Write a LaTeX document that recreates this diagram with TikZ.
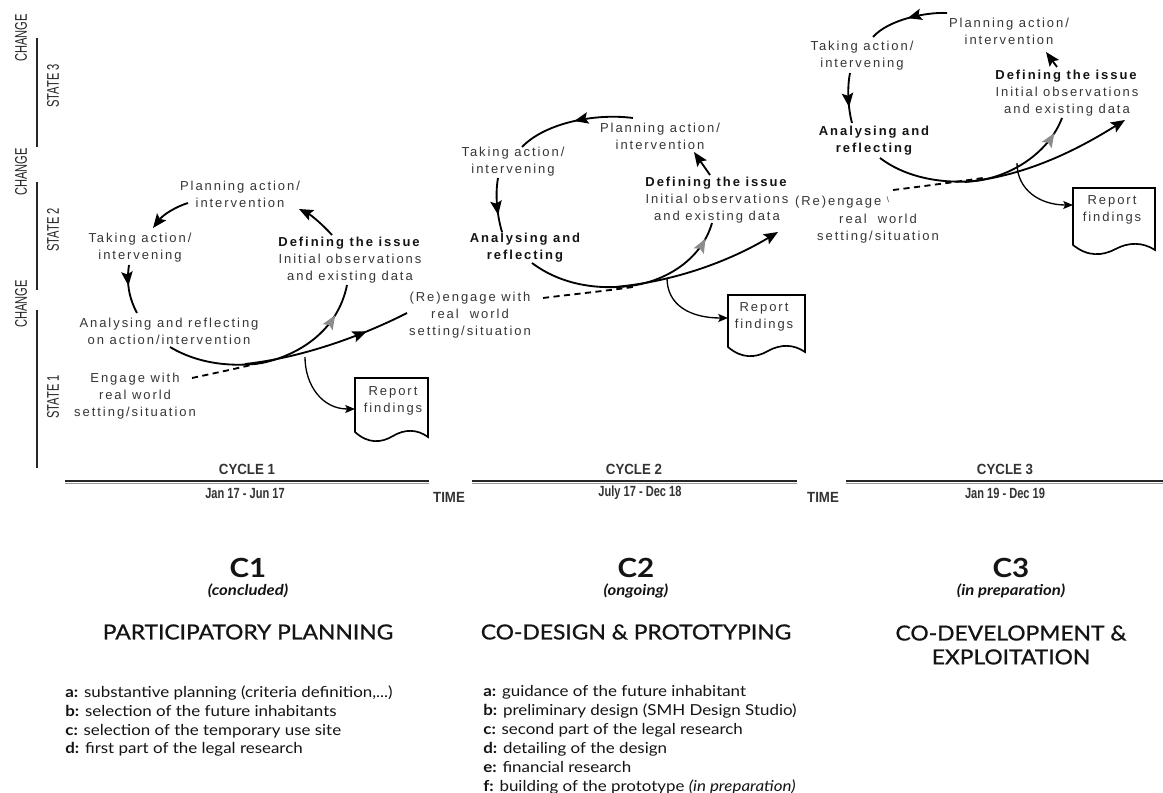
\documentclass[tikz,border=0pt]{standalone}
\usepackage{fontspec}
\usepackage{graphicx}
\setmainfont{Liberation Sans}
\newfontfamily\dgfont[LetterSpace=15]{Liberation Sans}
\newfontfamily\axfont{Liberation Sans}
\newfontfamily\capfont[FakeStretch=1.12]{Lato}
\newfontfamily\headfont[FakeStretch=1.1, FakeBold=0.8]{Lato}
\usetikzlibrary{arrows.meta,decorations.markings}
\definecolor{ink}{HTML}{363636}
\definecolor{deep}{HTML}{141414}

% document-shaped outline with a wavy lower edge: left, top, right, bottom
\newcommand{\docshape}[4]{%
  \draw[docline] (#1,#2) -- (#1,#4)
    .. controls ({#1+0.18*(#3-#1)},{#4+12}) and ({#1+0.36*(#3-#1)},{#4+11}) .. ({#1+0.52*(#3-#1)},{#4+4})
    .. controls ({#1+0.68*(#3-#1)},{#4-3}) and ({#1+0.85*(#3-#1)},{#4-3}) .. (#3,{#4+5})
    -- (#3,#2) -- cycle;}

\tikzset{
  lbl/.style={font=\dgfont\fontsize{7.4}{9.6}\selectfont, text=ink, align=center, inner sep=0pt},
  flow/.style={line width=1.05pt, draw=black},
  thinflow/.style={line width=0.75pt, draw=black},
  docline/.style={line width=0.95pt, draw=black, fill=white},
  headtip/.style={-{Stealth[length=8pt,width=6.5pt,inset=1.5pt]}},
  smalltip/.style={-{Stealth[length=5.5pt,width=4.5pt,inset=1pt]}},
  dashflow/.style={line width=1.05pt, draw=black, dash pattern=on 3.5pt off 2.5pt},
  midhead/.style={postaction={decorate, decoration={markings,
      mark=at position #1 with {\arrow{Stealth[length=8pt,width=6.5pt,inset=1.5pt]}}}}},
  greyhead/.style={postaction={decorate, decoration={markings,
      mark=at position #1 with {\arrow{Stealth[length=8pt,width=6.5pt,inset=1.5pt,color=black!45]}}}}},
  axlbl/.style={font=\axfont\fontsize{9.6}{10}\selectfont, rotate=90, inner sep=0pt, text=black!85},
  axline/.style={line width=1.2pt, draw=black!85},
  tltext/.style={font=\axfont\bfseries\fontsize{8.4}{9}\selectfont, inner sep=0pt, text=black!80},
  tlmain/.style={line width=1.3pt, draw=black!85},
  tlshade/.style={line width=0.9pt, draw=black!40},
  ctitle/.style={font=\capfont\bfseries\fontsize{15}{16}\selectfont, inner sep=0pt, text=deep},
  cstatus/.style={font=\capfont\bfseries\itshape\fontsize{8.5}{9}\selectfont, inner sep=0pt, text=deep},
  chead/.style={font=\headfont\fontsize{11.8}{13.6}\selectfont, inner sep=0pt, align=center, text=deep},
  clist/.style={font=\capfont\fontsize{8.6}{10.8}\selectfont, inner sep=0pt, align=left, text=deep, anchor=north west},
}

\begin{document}
\begin{tikzpicture}[x=0.02cm, y=-0.02cm]
\fill[white] (0,0) rectangle (1163,793);
\useasboundingbox (0,0) rectangle (1163,793);

% ---------- state / change axis ----------
\coordinate (s3a) at (37,38);  \coordinate (s3b) at (37,147);
\coordinate (s2a) at (37,182); \coordinate (s2b) at (37,290);
\coordinate (s1a) at (37,310); \coordinate (s1b) at (37,468);
\draw[axline] (s3a) -- (s3b);
\draw[axline] (s2a) -- (s2b);
\draw[axline] (s1a) -- (s1b);
\node[axlbl] (ch3) at (21,38)  {\scalebox{0.66}[1]{CHANGE}};
\node[axlbl] (ch2) at (21,172) {\scalebox{0.66}[1]{CHANGE}};
\node[axlbl] (ch1) at (21,304) {\scalebox{0.66}[1]{CHANGE}};
\node[axlbl] (st3) at (53,86)  {\scalebox{0.66}[1]{STATE 3}};
\node[axlbl] (st2) at (53,230) {\scalebox{0.66}[1]{STATE 2}};
\node[axlbl] (st1) at (53,397) {\scalebox{0.66}[1]{STATE 1}};

% ---------- cycle 1 ----------
\node[lbl] (plan1) at (240,194) {Planning action/\\intervention};
\node[lbl] (take1) at (140,248) {Taking action/\\intervening};
\node[lbl] (anal1) at (169,331) {Analysing and reflecting\\on action/intervention};
\node[lbl] (def1)  at (350,260) {\textcolor{deep}{\textbf{Defining the issue}}\\Initial observations\\and existing data};
\node[lbl] (eng1)  at (135,396) {Engage with\\real world\\setting/situation};
\node[lbl] (reeng2) at (470,315) {(Re)engage with\\real\ \ world\\setting/situation};
\docshape{355}{378}{428}{432}
\node[lbl] (rep1) at (393,401) {Report\\findings};
\coordinate (rep1in) at (355,409);

\draw[flow,headtip] (188,203) .. controls (175,207) and (163,215) .. (153,228);
\draw[flow,midhead=0.42] (129,265) .. controls (126,285) and (130,300) .. (137,313);
\draw[flow,greyhead=0.85] (170,347) .. controls (200,365) and (235,367) .. (262,363)
      .. controls (300,355) and (338,330) .. (347,285);
\draw[flow,midhead=0.74] (245,364) .. controls (300,358) and (360,337) .. (407,313);
\draw[dashflow] (192,378) .. controls (215,373) and (240,368) .. (263,362);
\draw[thinflow,smalltip] (305,357) .. controls (305,385) and (322,409) .. (rep1in);
\draw[flow,headtip] (332,235) .. controls (322,224) and (311,215) .. (299,209);

% ---------- cycle 2 ----------
\node[lbl] (plan2) at (660,136) {Planning action/\\intervention};
\node[lbl] (take2) at (513,162) {Taking action/\\intervening};
\node[lbl] (anal2) at (526,248) {\textcolor{deep}{\textbf{Analysing and}}\\\textcolor{deep}{\textbf{reflecting}}};
\node[lbl] (def2)  at (717,200) {\textcolor{deep}{\textbf{Defining the issue}}\\Initial observations\\and existing data};
\docshape{728}{295}{805}{347}
\node[lbl] (rep2) at (764,317) {Report\\findings};
\coordinate (rep2in) at (728,318);

\draw[flow,midhead=0.5] (633,118) .. controls (595,113) and (545,123) .. (522,147);
\draw[flow,midhead=0.68] (498,178) .. controls (495,195) and (497,215) .. (502,232);
\draw[flow,greyhead=0.92] (532,263) .. controls (560,284) and (595,290) .. (630,286)
      .. controls (668,281) and (702,258) .. (712,223);
\draw[flow,headtip] (615,287) .. controls (680,281) and (735,258) .. (778,232);
\draw[dashflow] (543,298) .. controls (575,294) and (605,291) .. (633,287);
\draw[thinflow,smalltip] (667,278) .. controls (667,305) and (690,318) .. (rep2in);
\draw[flow,headtip] (710,175) -- (694,152);

% ---------- cycle 3 ----------
\node[lbl] (plan3) at (1009,31) {Planning action/\\intervention};
\node[lbl] (take3) at (862,56)  {Taking action/\\intervening};
\node[lbl] (anal3) at (875,141) {\textcolor{deep}{\textbf{Analysing and}}\\\textcolor{deep}{\textbf{reflecting}}};
\node[lbl] (def3)  at (1067,93) {\textcolor{deep}{\textbf{Defining the issue}}\\Initial observations\\and existing data};
\node[lbl] (reeng3a) at (842,202) {(Re)engage \raisebox{0.4ex}{\scalebox{0.6}{\textbackslash}}};
\node[lbl] (reeng3b) at (878,229) {real\ \ world\\setting/situation};
\docshape{1073}{188}{1155}{245}
\node[lbl] (rep3) at (1112,210) {Report\\findings};
\coordinate (rep3in) at (1073,205);

\draw[flow,midhead=0.5] (947,13) .. controls (925,12) and (888,20) .. (873,37);
\draw[flow,midhead=0.68] (850,73) .. controls (847,88) and (848,108) .. (852,123);
\draw[flow,greyhead=0.92] (880,158) .. controls (905,177) and (940,184) .. (975,181)
      .. controls (1015,176) and (1050,150) .. (1062,118);
\draw[flow,headtip] (965,182) .. controls (1030,176) and (1085,145) .. (1125,120);
\draw[dashflow] (893,190) .. controls (925,186) and (955,182) .. (983,178);
\draw[thinflow,smalltip] (1017,163) .. controls (1017,190) and (1040,205) .. (rep3in);
\draw[flow,headtip] (1057,67) -- (1046,52);

% ---------- time line ----------
\coordinate (t1a) at (65,481);  \coordinate (t1b) at (429,481);
\coordinate (t2a) at (472,481); \coordinate (t2b) at (797,481);
\coordinate (t3a) at (846,481); \coordinate (t3b) at (1163,481);
\foreach \a/\b in {t1a/t1b, t2a/t2b, t3a/t3b}{
  \draw[tlshade] ([yshift=-1.5pt]\a) -- ([yshift=-1.5pt]\b);
  \draw[tlmain] (\a) -- (\b);
}
\node[tltext] (cy1) at (247,469) {\scalebox{0.9}[1]{CYCLE 1}};
\node[tltext] (cy2) at (634,469) {\scalebox{0.9}[1]{CYCLE 2}};
\node[tltext] (cy3) at (1005,469) {\scalebox{0.9}[1]{CYCLE 3}};
\node[tltext] (dt1) at (245,493) {\scalebox{0.75}[1]{Jan 17 - Jun 17}};
\node[tltext] (dt2) at (640,493) {\scalebox{0.75}[1]{July 17 - Dec 18}};
\node[tltext] (dt3) at (1005,493) {\scalebox{0.75}[1]{Jan 19 - Dec 19}};
\node[tltext] (tm1) at (449,497) {\scalebox{0.9}[1]{TIME}};
\node[tltext] (tm2) at (823,497) {\scalebox{0.9}[1]{TIME}};

% ---------- phases ----------
\node[ctitle]  (c1)  at (248,568) {C1};
\node[cstatus] (c1s) at (248,591) {(concluded)};
\node[chead]   (c1h) at (248,632) {PARTICIPATORY PLANNING};
\node[clist]   (c1l) at (65,685) {\textbf{a:} substantive planning (criteria definition,...)\\
  \textbf{b:} selection of the future inhabitants\\
  \textbf{c:} selection of the temporary use site\\
  \textbf{d:} first part of the legal research};

\node[ctitle]  (c2)  at (636,568) {C2};
\node[cstatus] (c2s) at (636,591) {(ongoing)};
\node[chead]   (c2h) at (636,632) {CO-DESIGN \& PROTOTYPING};
\node[clist]   (c2l) at (483,685) {\textbf{a:} guidance of the future inhabitant\\
  \textbf{b:} preliminary design (SMH Design Studio)\\
  \textbf{c:} second part of the legal research\\
  \textbf{d:} detailing of the design\\
  \textbf{e:} financial research\\
  \textbf{f:} building of the prototype \textit{(in preparation)}};

\node[ctitle]  (c3)  at (1011,568) {C3};
\node[cstatus] (c3s) at (1011,591) {(in preparation)};
\node[chead]   (c3h) at (1011,645) {CO-DEVELOPMENT \&\\EXPLOITATION};
\end{tikzpicture}
\end{document}
